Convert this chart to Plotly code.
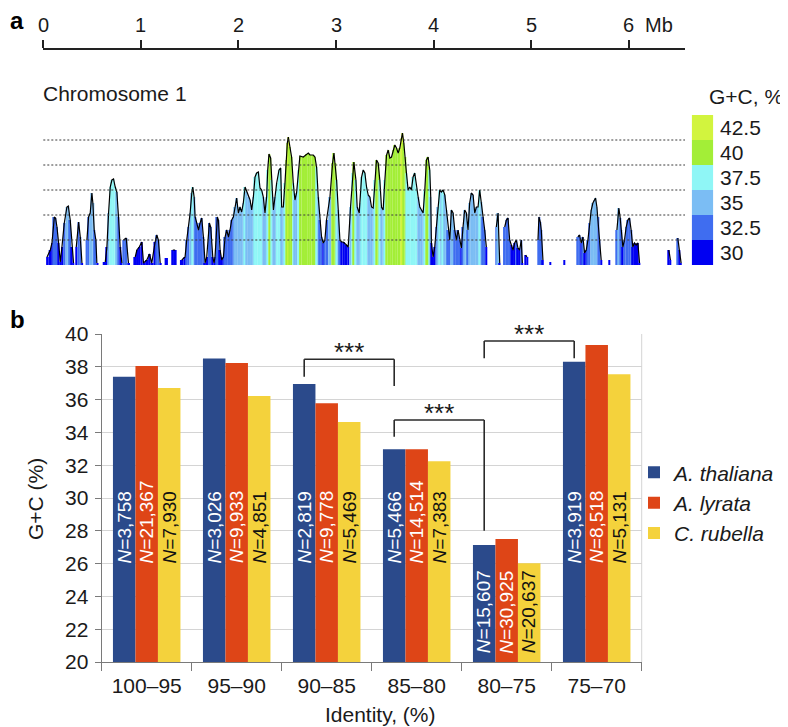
import plotly.graph_objects as go

FONT = "Liberation Sans, Arial, Helvetica, sans-serif"
PAGE_OFFSET = 8          # default body margin of the page
W, H = 788 - PAGE_OFFSET, 727 - PAGE_OFFSET

# ---------------- Panel a data: G+C profile along chromosome 1 ----------------
chrom_pos_mb = [
    0.020, 0.038, 0.072, 0.089, 0.113, 0.126, 0.140, 0.157, 0.174, 0.191, 0.215, 0.242, 0.256, 0.276, 0.293, 0.310,
    0.324, 0.338, 0.362, 0.379, 0.396, 0.420, 0.447, 0.464, 0.481, 0.498, 0.508, 0.522, 0.539, 0.549, 0.583,
    0.635, 0.652, 0.669, 0.686, 0.703, 0.720, 0.737, 0.754, 0.771, 0.788, 0.805, 0.812, 0.822, 0.850, 0.873, 0.904,
    0.942, 0.959, 0.983, 1.010, 1.027, 1.061, 1.088, 1.112, 1.146, 1.163, 1.180, 1.198, 1.228, 1.259, 1.296,
    1.327, 1.351, 1.382, 1.419, 1.453, 1.470, 1.488, 1.505, 1.522, 1.532, 1.546, 1.556, 1.573, 1.590, 1.607,
    1.624, 1.641, 1.658, 1.675, 1.702, 1.716, 1.737, 1.750, 1.760, 1.784, 1.795, 1.812, 1.829, 1.846, 1.863,
    1.880, 1.897, 1.914, 1.931, 1.948, 1.965, 1.982, 1.999, 2.016, 2.033, 2.050, 2.068, 2.085, 2.102, 2.119,
    2.136, 2.153, 2.170, 2.187, 2.204, 2.221, 2.238, 2.255, 2.272, 2.289, 2.300, 2.313, 2.330, 2.340, 2.358,
    2.375, 2.392, 2.416, 2.433, 2.443, 2.460, 2.477, 2.487, 2.501, 2.511, 2.528, 2.545, 2.562, 2.579, 2.596,
    2.613, 2.630, 2.665, 2.699, 2.716, 2.733, 2.767, 2.784, 2.801, 2.818, 2.835, 2.852, 2.869, 2.886, 2.903,
    2.938, 2.965, 2.979, 2.989, 3.006, 3.023, 3.040, 3.057, 3.074, 3.108, 3.125, 3.149, 3.170, 3.183, 3.204,
    3.217, 3.238, 3.245, 3.262, 3.279, 3.296, 3.313, 3.330, 3.347, 3.364, 3.381, 3.398, 3.415, 3.432, 3.449,
    3.466, 3.483, 3.501, 3.518, 3.535, 3.552, 3.569, 3.586, 3.603, 3.620, 3.637, 3.654, 3.671, 3.681, 3.695,
    3.705, 3.722, 3.739, 3.756, 3.773, 3.790, 3.807, 3.825, 3.842, 3.859, 3.876, 3.893, 3.910, 3.927, 3.944,
    3.961, 3.971, 3.978, 3.995, 4.012, 4.029, 4.046, 4.063, 4.080, 4.098, 4.115, 4.132, 4.149, 4.166, 4.183,
    4.200, 4.217, 4.234, 4.251, 4.268, 4.285, 4.302, 4.319, 4.336, 4.353, 4.370, 4.387, 4.405, 4.422, 4.439,
    4.456, 4.473, 4.490, 4.507, 4.524, 4.541, 4.558, 4.626, 4.643, 4.661, 4.678, 4.695, 4.729, 4.746, 4.763,
    4.780, 4.797, 4.814, 4.831, 4.848, 4.865, 4.882, 4.899, 4.910, 4.927, 4.944, 4.957, 4.974, 5.060, 5.070,
    5.080, 5.094, 5.104, 5.121, 5.138, 5.186, 5.196, 5.206, 5.333, 5.343, 5.353, 5.466, 5.479, 5.496, 5.513,
    5.531, 5.548, 5.565, 5.582, 5.599, 5.616, 5.633, 5.650, 5.660, 5.674, 5.684, 5.701, 5.718, 5.735, 5.793,
    5.803, 5.813, 5.865, 5.879, 5.899, 5.913, 5.926, 5.940, 5.957, 5.974, 5.991, 6.008, 6.025, 6.042, 6.059,
    6.076, 6.094, 6.111, 6.128, 6.397, 6.411, 6.428, 6.441, 6.489, 6.503, 6.520, 6.537, 6.551,
]
chrom_gc = [
    30.0, 30.8, 31.5, 32.2, 34.8, 34.7, 33.8, 32.2, 30.3, 31.8, 34.2, 35.8, 35.9, 34.5, 31.8, 30.2,
    30.0, 31.8, 34.3, 32.8, 30.2, 30.0, 32.5, 34.8, 35.2, 37.2, 36.2, 33.5, 32.5, 30.2, 30.0,
    30.3, 31.8, 35.2, 37.8, 38.5, 38.6, 37.8, 37.3, 34.8, 31.8, 30.2, 30.0, 32.5, 32.7, 30.2, 30.0,
    30.8, 31.5, 31.8, 32.3, 30.2, 30.5, 31.1, 30.2, 32.3, 33.0, 32.5, 30.2, 30.0, 30.7, 30.0,
    31.5, 31.5, 30.0, 30.5, 30.8, 32.5, 33.8, 35.2, 37.2, 37.8, 36.8, 34.8, 34.2, 33.5, 34.2,
    34.7, 32.8, 30.2, 30.8, 34.2, 33.8, 30.8, 30.2, 30.8, 34.8, 34.5, 31.5, 30.5, 30.8, 32.8,
    33.5, 32.8, 33.5, 34.5, 34.8, 35.8, 36.7, 35.2, 35.8, 35.3, 36.2, 37.8, 37.3, 36.8, 36.5,
    35.5, 36.8, 38.8, 39.2, 39.3, 37.7, 37.5, 36.8, 35.2, 36.8, 39.5, 41.1, 40.7, 38.5, 35.5,
    36.8, 38.2, 39.5, 39.7, 35.8, 35.8, 38.2, 40.5, 42.2, 42.8, 41.8, 40.8, 38.2, 36.5, 37.2,
    39.5, 40.9, 40.8, 41.1, 41.2, 41.0, 41.0, 40.8, 39.8, 36.8, 34.5, 32.8, 32.2, 32.5, 34.5,
    36.8, 40.2, 41.2, 40.2, 38.5, 35.5, 32.5, 32.3, 32.3, 32.0, 31.8, 35.8, 39.2, 40.3, 38.5,
    35.8, 35.2, 36.2, 38.8, 39.5, 39.2, 37.8, 37.0, 36.8, 35.8, 35.7, 38.5, 40.5, 40.2, 38.5,
    35.8, 35.5, 38.5, 41.0, 41.5, 40.7, 40.8, 41.5, 42.0, 41.7, 41.2, 41.7, 42.7, 43.2, 42.2,
    40.8, 39.2, 37.5, 37.8, 37.5, 38.8, 39.2, 37.7, 36.8, 35.8, 35.5, 35.2, 37.5, 40.5, 40.8,
    39.5, 36.8, 32.2, 30.8, 31.8, 33.8, 35.8, 37.5, 37.3, 37.5, 37.0, 35.5, 33.5, 32.5, 35.5,
    35.2, 33.5, 32.5, 33.5, 32.5, 31.7, 33.8, 35.5, 35.2, 33.5, 36.2, 37.2, 37.0, 35.2, 35.8,
    35.8, 37.5, 36.3, 34.8, 33.5, 31.8, 30.0, 30.0, 33.8, 35.2, 30.2, 30.0, 33.8, 34.5, 34.7,
    32.5, 32.0, 31.5, 32.2, 32.5, 31.7, 31.5, 32.5, 30.2, 30.0, 31.0, 30.8, 30.0, 30.0, 32.5,
    34.8, 34.3, 33.5, 30.5, 30.0, 30.0, 30.3, 30.0, 30.0, 30.5, 30.0, 30.0, 32.8, 33.0, 32.2,
    32.8, 31.2, 31.5, 32.5, 34.2, 35.5, 36.2, 36.5, 36.7, 35.8, 34.8, 32.5, 30.5, 30.0, 30.0,
    30.5, 30.0, 30.0, 33.5, 35.7, 34.7, 33.5, 31.8, 32.5, 33.8, 34.5, 34.7, 33.5, 31.8, 32.2,
    32.0, 32.2, 30.2, 30.0, 30.0, 31.5, 30.5, 30.0, 30.0, 32.7, 31.5, 30.2, 30.0,
]
gc_bins = [30, 32.5, 35, 37.5, 40, 42.5]
gc_bin_labels = ["30", "32.5", "35", "37.5", "40", "42.5"]
gc_bin_colors = ["#0000F2", "#3F6DF0", "#7BBDF4", "#8FF6F6", "#A3EE37", "#D2F43E"]
ruler_ticks = [0, 1, 2, 3, 4, 5, 6]
ruler_unit = "Mb"
chrom_len_mb = 6.577

# ---------------- Panel b data ----------------
categories = ["100–95", "95–90", "90–85", "85–80", "80–75", "75–70"]
species = ["A. thaliana", "A. lyrata", "C. rubella"]
gc_thaliana = [37.4, 38.5, 36.95, 32.97, 27.13, 38.31]
gc_lyrata = [38.05, 38.23, 35.77, 32.97, 27.5, 39.33]
gc_rubella = [36.7, 36.22, 34.63, 32.24, 26.02, 37.54]
n_thaliana = ["3,758", "3,026", "2,819", "5,466", "15,607", "3,919"]
n_lyrata = ["21,367", "9,933", "9,778", "14,514", "30,925", "8,518"]
n_rubella = ["7,930", "4,851", "5,469", "7,383", "20,637", "5,131"]
species_colors = ["#2B4A8B", "#DE4517", "#F4D23C"]
label_colors = ["white", "white", "#111111"]
# significance brackets: (from category, to category, bar height, left leg end, right leg end)
brackets = [
    (2, 3, 38.46, 37.4, 36.83),
    (3, 4, 34.76, 33.74, 28.0),
    (4, 5, 39.57, 38.52, 38.52),
]

BARGAP = 0.25


def px_x(p):
    return (p - PAGE_OFFSET) / W


def px_y(p):
    return 1 - (p - PAGE_OFFSET) / H


fig = go.Figure()

# ---- profile bars (colored by G+C bin) ----
n = len(chrom_pos_mb)
mids = [(chrom_pos_mb[i] + chrom_pos_mb[i + 1]) / 2 for i in range(n - 1)]
lefts = [chrom_pos_mb[0] - (mids[0] - chrom_pos_mb[0])] + mids
rights = mids + [chrom_pos_mb[-1] + (chrom_pos_mb[-1] - mids[-1])]
centers = [(l + r) / 2 for l, r in zip(lefts, rights)]
widths = [r - l for l, r in zip(lefts, rights)]
heights = [max(g - gc_bins[0], 0) for g in chrom_gc]


def bin_color(g):
    idx = 0
    for k, b in enumerate(gc_bins):
        if g >= b:
            idx = k
    return gc_bin_colors[idx]


colors = [bin_color(g) for g in chrom_gc]
fig.add_trace(go.Bar(x=centers, y=heights, base=gc_bins[0], width=widths,
                     marker=dict(color=colors, line=dict(width=0)),
                     xaxis="x2", yaxis="y2", showlegend=False, hoverinfo="skip"))
line_y = [g if g > gc_bins[0] else None for g in chrom_gc]
fig.add_trace(go.Scatter(x=chrom_pos_mb, y=line_y, mode="lines",
                         line=dict(color="#000000", width=1.2),
                         xaxis="x2", yaxis="y2", showlegend=False, hoverinfo="skip"))

# ---- colour key ----
step = gc_bins[1] - gc_bins[0]
fig.add_trace(go.Bar(x=[0] * len(gc_bins), y=[step] * len(gc_bins), base=gc_bins, width=1,
                     marker=dict(color=gc_bin_colors, line=dict(width=0)),
                     xaxis="x3", yaxis="y2", showlegend=False, hoverinfo="skip"))

# ---- panel b bars ----
series = [gc_thaliana, gc_lyrata, gc_rubella]
nlabels = [n_thaliana, n_lyrata, n_rubella]
for name, vals, col in zip(species, series, species_colors):
    fig.add_trace(go.Bar(x=categories, y=vals, name=f"<i>{name}</i>", marker=dict(color=col, line=dict(width=0)),
                         xaxis="x", yaxis="y", hoverinfo="skip"))

annotations = []
shapes = []

# N labels inside bars
bw = (1 - BARGAP) / 3
for j, (vals, labs) in enumerate(zip(series, nlabels)):
    for i, (v, lab) in enumerate(zip(vals, labs)):
        ybase = 25.9 if v >= 30 else 20.4
        annotations.append(dict(x=i + (j - 1) * bw, y=ybase, xref="x", yref="y", text=f"<i>N</i>={lab}",
                                textangle=-90, showarrow=False, xanchor="center", yanchor="bottom",
                                font=dict(size=19, color=label_colors[j])))

# brackets
for (c0, c1, top, yl, yr) in brackets:
    x0 = c0 - bw
    x1 = c1 - bw
    lc = dict(color="#2a2a2a", width=1.6)
    shapes.append(dict(type="line", xref="x", yref="y", x0=x0, x1=x0, y0=yl, y1=top, line=lc))
    shapes.append(dict(type="line", xref="x", yref="y", x0=x0, x1=x1, y0=top, y1=top, line=lc))
    shapes.append(dict(type="line", xref="x", yref="y", x0=x1, x1=x1, y0=top, y1=yr, line=lc))
    annotations.append(dict(x=(x0 + x1) / 2, y=top, xref="x", yref="y", text="***", showarrow=False,
                            xanchor="center", yanchor="bottom", yshift=-10, font=dict(size=26, color="#1a1a1a")))

# right border of panel b
shapes.append(dict(type="line", xref="x domain", yref="y domain", x0=1, x1=1, y0=0, y1=1,
                   line=dict(color="#d4d4d4", width=1)))

# dotted reference lines in panel a
for lvl in gc_bins[1:]:
    shapes.append(dict(type="line", xref="x2 domain", yref="y2", x0=0, x1=1, y0=lvl, y1=lvl, layer="above",
                       line=dict(color="#3a3a3a", width=1, dash="2px,2px")))

# ruler numbers (placed on the chromosome axis)
for t in ruler_ticks:
    annotations.append(dict(x=t, y=px_y(25), xref="x2", yref="paper", text=str(t), showarrow=False,
                            xanchor="center", yanchor="middle", font=dict(size=20)))
annotations.append(dict(x=ruler_ticks[-1], y=px_y(25), xref="x2", yref="paper", text=ruler_unit,
                        showarrow=False, xanchor="left", yanchor="middle", xshift=14, font=dict(size=20)))

# colour key labels
for b, lab in zip(gc_bins, gc_bin_labels):
    annotations.append(dict(x=0.5, y=b + step / 2, xref="x3", yref="y2", text=lab, showarrow=False,
                            xanchor="left", yanchor="middle", xshift=5, font=dict(size=21)))
annotations.append(dict(x=px_x(707), y=px_y(97), xref="paper", yref="paper", text="G+C, %", showarrow=False,
                        xanchor="left", yanchor="middle", font=dict(size=21)))
annotations.append(dict(x=px_x(41), y=px_y(93), xref="paper", yref="paper", text="Chromosome 1", showarrow=False,
                        xanchor="left", yanchor="middle", font=dict(size=21)))
# panel letters
annotations.append(dict(x=px_x(8), y=px_y(20), xref="paper", yref="paper", text="<b>a</b>", showarrow=False,
                        xanchor="left", yanchor="middle", font=dict(size=24, color="#000")))
annotations.append(dict(x=px_x(8), y=px_y(319), xref="paper", yref="paper", text="<b>b</b>", showarrow=False,
                        xanchor="left", yanchor="middle", font=dict(size=24, color="#000")))
# axis titles
annotations.append(dict(x=px_x(35), y=px_y(499), xref="paper", yref="paper", text="G+C (%)", showarrow=False,
                        textangle=-90, xanchor="center", yanchor="middle", font=dict(size=21)))
annotations.append(dict(x=px_x(380), y=px_y(714), xref="paper", yref="paper", text="Identity, (%)",
                        showarrow=False, xanchor="center", yanchor="middle", font=dict(size=21)))

fig.update_layout(
    width=W, height=H, margin=dict(l=0, r=0, t=0, b=0, autoexpand=False),
    paper_bgcolor="white", plot_bgcolor="rgba(0,0,0,0)",
    barmode="group", bargap=BARGAP, bargroupgap=0,
    font=dict(family=FONT, size=21, color="#1a1a1a"),
    xaxis=dict(domain=[px_x(101.7), px_x(641.7)], anchor="y", type="category",
               showline=True, linecolor="#7a7a7a", linewidth=1.3,
               ticks="outside", tickson="boundaries", ticklen=8, tickcolor="#7a7a7a", tickwidth=1.3,
               ticklabelstandoff=5, tickfont=dict(size=21), showgrid=False, zeroline=False),
    yaxis=dict(domain=[px_y(662), px_y(334)], anchor="x", range=[20, 40], dtick=2, tick0=20,
               showline=True, linecolor="#7a7a7a", linewidth=1.3, ticks="outside", ticklen=6,
               tickcolor="#7a7a7a", tickwidth=1.3, gridcolor="#d4d4d4", gridwidth=1, zeroline=False,
               ticklabelstandoff=2, tickfont=dict(size=21)),
    xaxis2=dict(domain=[px_x(43.3), px_x(685)], range=[0, chrom_len_mb], anchor="free", position=px_y(49),
                side="top", showline=True, linecolor="#222", linewidth=1.5, ticks="outside", ticklen=8,
                tickwidth=1.5, tickcolor="#222", tickvals=ruler_ticks, showticklabels=False,
                showgrid=False, zeroline=False),
    yaxis2=dict(domain=[px_y(265), px_y(115)], range=[30, 45], anchor="x2", visible=False),
    xaxis3=dict(domain=[px_x(691.7), px_x(713.3)], range=[-0.5, 0.5], anchor="y2", visible=False),
    legend=dict(x=px_x(634), y=px_y(502.7), xanchor="left", yanchor="middle", font=dict(size=21),
                bgcolor="rgba(0,0,0,0)", itemclick=False),
    annotations=annotations, shapes=shapes,
)

fig.write_html("out.html")
